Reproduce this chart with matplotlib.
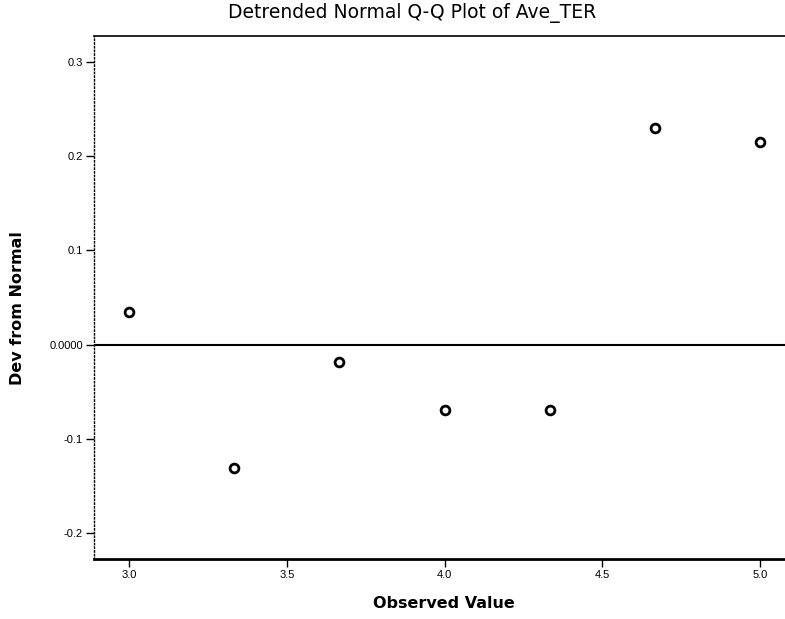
import matplotlib
matplotlib.use("Agg")
import matplotlib.pyplot as plt

observed = [3.0, 3.333, 3.667, 4.0, 4.333, 4.667, 5.0]
deviation = [0.035, -0.131, -0.018, -0.069, -0.069, 0.230, 0.215]

x_ticks = [3.0, 3.5, 4.0, 4.5, 5.0]
x_tick_labels = ["3.0", "3.5", "4.0", "4.5", "5.0"]
y_ticks = [0.3, 0.2, 0.1, 0.0, -0.1, -0.2]
y_tick_labels = ["0.3", "0.2", "0.1", "0.0000", "-0.1", "-0.2"]

plt.rcParams['font.family'] = ['Liberation Sans', 'DejaVu Sans']

fig = plt.figure(figsize=(7.85, 6.19), dpi=100)
ax = fig.add_axes([94/785, 1 - 559/619, 1 - 94/785, (559 - 36)/619])

ax.scatter(observed, deviation, s=40, facecolors='white', edgecolors='black',
           linewidths=2, zorder=3)
ax.axhline(0, color='black', lw=1.5, zorder=2)

ax.set_xlim(2.889, 5.079)
ax.set_ylim(-0.2276, 0.3276)
ax.set_xticks(x_ticks)
ax.set_xticklabels(x_tick_labels, fontsize=8)
ax.set_yticks(y_ticks)
ax.set_yticklabels(y_tick_labels, fontsize=8)
ax.tick_params(direction='out', length=6, width=1, color='black', pad=2)

ax.spines['right'].set_visible(False)
ax.spines['top'].set_color('black')
ax.spines['top'].set_linewidth(1.2)
ax.spines['bottom'].set_linewidth(2)
ax.spines['left'].set_linestyle(':')
ax.spines['left'].set_linewidth(1)

fig.text(412/785, 1 - 13/619, "Detrended Normal Q-Q Plot of Ave_TER",
         ha='center', va='center', fontsize=13.5, family='DejaVu Sans')
fig.text(444/785, 1 - 603/619, "Observed Value", ha='center', va='center',
         fontsize=11.5, fontweight='bold', family='DejaVu Sans')
fig.text(18/785, 1 - 308/619, "Dev from Normal", ha='center', va='center',
         rotation=90, fontsize=11.5, fontweight='bold', family='DejaVu Sans')

fig.savefig("out.png", dpi=100)
